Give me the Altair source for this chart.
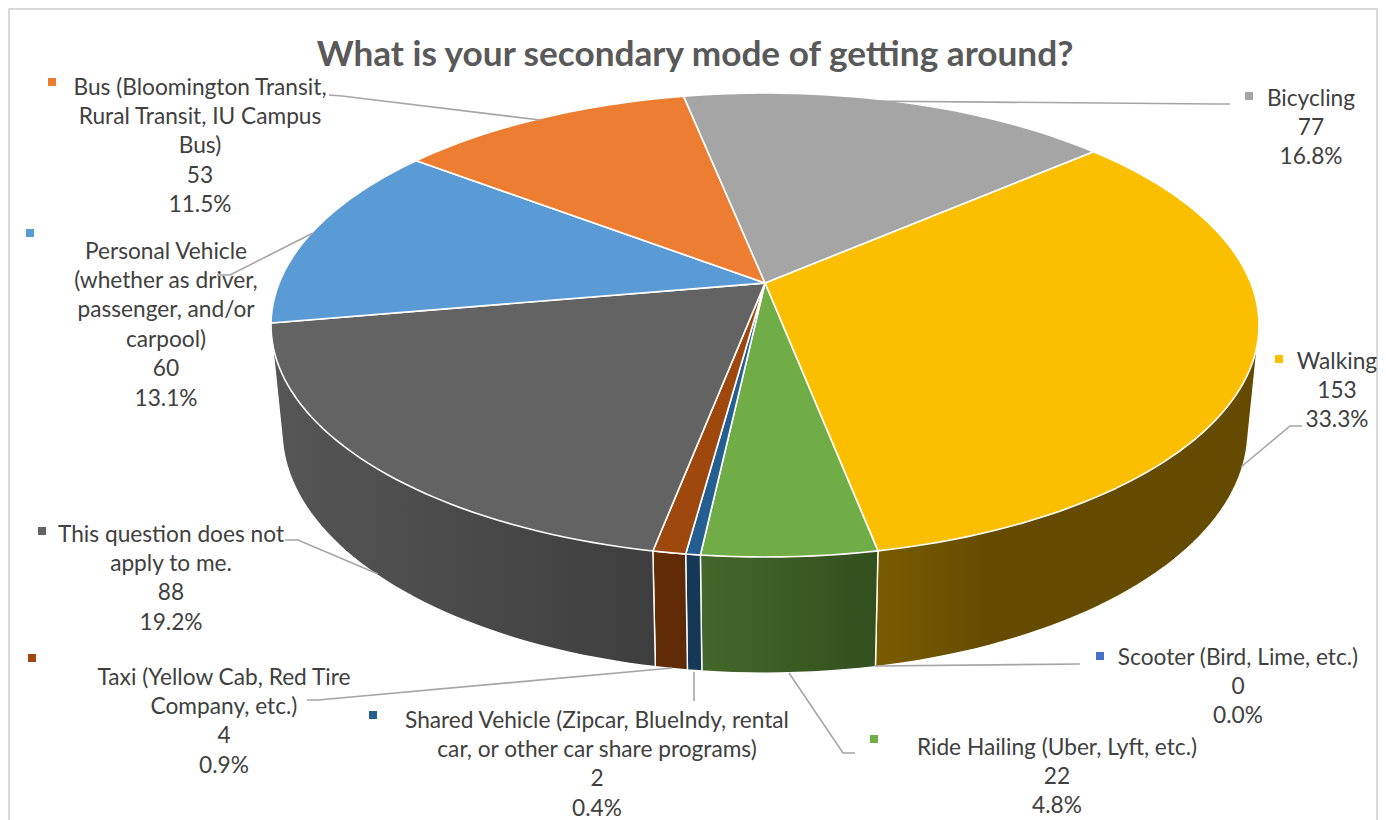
import math
import altair as alt
import pandas as pd

# ---- data ----
names = ["Walking", "Ride Hailing (Uber, Lyft, etc.)", "Scooter (Bird, Lime, etc.)",
         "Shared Vehicle", "Taxi", "This question does not apply to me.",
         "Personal Vehicle", "Bus", "Bicycling"]
counts = [153, 22, 0, 2, 4, 88, 60, 53, 77]
shares = [33.3, 4.8, 0.0, 0.4, 0.9, 19.2, 13.1, 11.5, 16.8]
top_colors = ["#fcbf00", "#70ad47", "#4472c4", "#255e91", "#9e480e", "#636363", "#5b9bd5", "#ed7d31", "#a5a5a5"]
wall_left = ["#7a5c00", "#44672a", "#29447a", "#163857", "#632c06", "#565656", "#375e81", "#8f4b1d", "#646464"]
wall_right = ["#644b00", "#324f1e", "#29447a", "#163857", "#5e2a06", "#3e3e3e", "#375e81", "#8f4b1d", "#646464"]
wall_fade_end = [0.3, 1, 1, 1, 1, 1, 1, 1, 1]

label_lines = [
    ["Walking", "153", "33.3%"],
    ["Ride Hailing (Uber, Lyft, etc.)", "22", "4.8%"],
    ["Scooter (Bird, Lime, etc.)", "0", "0.0%"],
    ["Shared Vehicle (Zipcar, BlueIndy, rental", "car, or other car share programs)", "2", "0.4%"],
    ["Taxi (Yellow Cab, Red Tire", "Company, etc.)", "4", "0.9%"],
    ["This question does not", "apply to me.", "88", "19.2%"],
    ["Personal Vehicle", "(whether as driver,", "passenger, and/or", "carpool)", "60", "13.1%"],
    ["Bus (Bloomington Transit,", "Rural Transit, IU Campus", "Bus)", "53", "11.5%"],
    ["Bicycling", "77", "16.8%"],
]
label_x = [1337, 1057, 1238, 597, 224, 171, 166, 200, 1311]
label_y = [361.5, 747.5, 657.5, 720.5, 677.5, 534.5, 251.5, 87.5, 98.5]
line_step = 29.4
marker_x = [1279, 874, 1100, 373, 32, 42, 30, 52, 1249]
marker_y = [359, 739, 656, 715, 658, 531, 233, 82, 96]
leaders = [
    [(1302, 426), (1290, 426), (1241, 467)],
    [(855, 753), (843, 753), (789, 673)],
    [(1080, 664), (875, 666)],
    [(694, 701), (694, 672)],
    [(307, 700), (318, 700), (672, 668)],
    [(285, 540), (298, 540), (378, 574)],
    [(313, 233), (230, 275), (217, 275)],
    [(329, 95), (342, 96), (540, 120)],
    [(1230, 104), (1215, 104), (860, 101)],
]
title_text = "What is your secondary mode of getting around?"

# ---- geometry ----
W, H = 1370, 826
START_DEG = 49.1
CX, CY, RX, RY = 765.0, 325.0, 494.0, 232.0
APEX_Y = 283.0
A = (CY - APEX_Y) / RY
BX, BCY, BRX, BRY = 765.0, 430.5, 483.0, 242.6


def unit(deg):
    t = math.radians(deg)
    u, v = math.sin(t), -math.cos(t)
    d = 1 - A * v
    return u * math.sqrt(1 - A * A) / d, (v - A) / d


def top_pt(deg):
    X, Y = unit(deg)
    return CX + RX * X, CY + RY * Y


def bot_pt(deg):
    X, Y = unit(deg)
    return BX + BRX * X, BCY + BRY * Y


def hull(points):
    pts = sorted(set(points))

    def half(seq):
        out = []
        for p in seq:
            while len(out) >= 2 and ((out[-1][0] - out[-2][0]) * (p[1] - out[-2][1])
                                     - (out[-1][1] - out[-2][1]) * (p[0] - out[-2][0])) <= 0:
                out.pop()
            out.append(p)
        return out[:-1]

    return half(pts) + half(pts[::-1])


xs = alt.Scale(domain=[8, 8 + W], range=[0, W], nice=False, zero=False)
ys = alt.Scale(domain=[8, 8 + H], range=[0, H], nice=False, zero=False)
X = alt.X("x:Q", scale=xs, axis=None)
Y = alt.Y("y:Q", scale=ys, axis=None)


def poly(points, closed=True, **mark):
    pts = points + points[:1] if closed else points
    df = pd.DataFrame([{"x": p[0], "y": p[1], "i": i} for i, p in enumerate(pts)])
    return alt.Chart(df).mark_line(strokeJoin="round", **mark).encode(x=X, y=Y, order="i:Q")


total = sum(shares)
bounds = [START_DEG]
for s in shares:
    bounds.append(bounds[-1] + 360 * s / total)

walls, tops = [], []
for i, s in enumerate(shares):
    if s == 0:
        continue
    a0, a1 = bounds[i], bounds[i + 1]
    n = max(2, int((a1 - a0) / 1.5))
    degs = [a0 + (a1 - a0) * k / n for k in range(n + 1)]
    rim = [top_pt(d) for d in degs]
    base = [bot_pt(d) for d in degs]
    if a0 < 255:
        stops = [alt.GradientStop(offset=0, color=wall_left[i]),
                 alt.GradientStop(offset=wall_fade_end[i], color=wall_right[i])]
        if wall_fade_end[i] < 1:
            stops.append(alt.GradientStop(offset=1, color=wall_right[i]))
        grad = alt.Gradient(gradient="linear", x1=0, x2=1, y1=0, y2=0, stops=stops)
        walls.append(poly(hull(rim + base), fill=grad, stroke="white", strokeWidth=1.4))
    tops.append(poly([(CX, APEX_Y)] + rim, fill=top_colors[i], stroke="white", strokeWidth=1.6))

frame = poly([(9, 834), (9, 9), (1377, 9), (1377, 834)], closed=False, stroke="#d9d9d9", strokeWidth=2)

leader_rows = []
for k, pts in enumerate(leaders):
    for j, p in enumerate(pts):
        leader_rows.append({"x": p[0], "y": p[1], "k": k, "j": j})
leader_layer = alt.Chart(pd.DataFrame(leader_rows)).mark_line(color="#a5a5a5", strokeWidth=1.6).encode(
    x=X, y=Y, detail="k:N", order="j:Q")

marker_df = pd.DataFrame({"x": marker_x, "y": marker_y, "c": top_colors})
marker_layer = alt.Chart(marker_df).mark_square(size=64, opacity=1, filled=True).encode(
    x=X, y=Y, color=alt.Color("c:N", scale=None))

text_rows = []
for i, lines in enumerate(label_lines):
    for j, t in enumerate(lines):
        text_rows.append({"x": label_x[i], "y": label_y[i] + j * line_step, "t": t})
text_layer = alt.Chart(pd.DataFrame(text_rows)).mark_text(
    font="Lato", fontSize=22.7, color="#404040", align="center", baseline="middle"
).encode(x=X, y=Y, text="t:N")

title_layer = alt.Chart(pd.DataFrame({"x": [695], "y": [55], "t": [title_text]})).mark_text(
    font="Lato", fontSize=35.2, fontWeight="bold", color="#595959", align="center", baseline="middle"
).encode(x=X, y=Y, text="t:N")

chart = alt.layer(frame, *walls, *tops, leader_layer, marker_layer, text_layer, title_layer).properties(
    width=W, height=H, padding=0, autosize=alt.AutoSizeParams(type="none"), background="white"
).configure_view(stroke=None)

chart.save("out.html", embed_options={"renderer": "svg", "actions": False})
